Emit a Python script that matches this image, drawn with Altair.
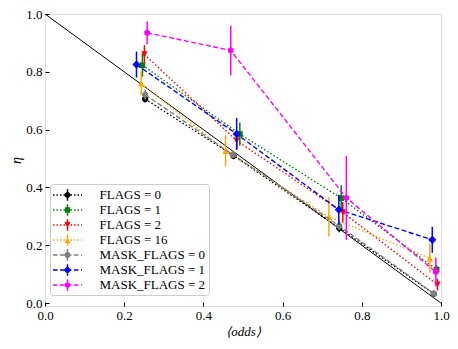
import math
import altair as alt
import pandas as pd

# ---------------- data ----------------
series = ["FLAGS = 0", "FLAGS = 1", "FLAGS = 2", "FLAGS = 16",
          "MASK_FLAGS = 0", "MASK_FLAGS = 1", "MASK_FLAGS = 2"]
colors = ["#000000", "#008000", "#ff0000", "#ffa500", "#808080", "#0000ff", "#ff00ff"]
markers = ["o", "s", "v", "^", "8", "D", "h"]
styles = ["dotted", "dotted", "dotted", "dotted", "dashed", "dashed", "dashed"]

odds_f0 = [0.253, 0.476, 0.743, 0.982]
eta_f0 = [0.706, 0.510, 0.260, 0.032]
err_f0 = [0.012, 0.012, 0.015, 0.008]

odds_f1 = [0.246, 0.492, 0.748, 0.989]
eta_f1 = [0.823, 0.585, 0.363, 0.116]
err_f1 = [0.040, 0.040, 0.045, 0.015]

odds_f2 = [0.251, 0.484, 0.752, 0.991]
eta_f2 = [0.860, 0.562, 0.314, 0.064]
err_f2 = [0.032, 0.030, 0.036, 0.020]

odds_f16 = [0.243, 0.456, 0.717, 0.972]
eta_f16 = [0.760, 0.527, 0.298, 0.155]
err_f16 = [0.040, 0.054, 0.068, 0.050]

odds_m0 = [0.253, 0.474, 0.743, 0.982]
eta_m0 = [0.721, 0.514, 0.267, 0.033]
err_m0 = [0.018, 0.012, 0.015, 0.010]

odds_m1 = [0.231, 0.484, 0.742, 0.978]
eta_m1 = [0.825, 0.585, 0.323, 0.219]
err_m1 = [0.045, 0.055, 0.052, 0.045]

odds_m2 = [0.258, 0.469, 0.761, 0.987]
eta_m2 = [0.935, 0.874, 0.364, 0.108]
err_m2 = [0.040, 0.086, 0.145, 0.050]

diag_odds = [0.0, 1.0]
diag_eta = [1.0, 0.0]

tick_values = [0.0, 0.2, 0.4, 0.6, 0.8, 1.0]

all_odds = [odds_f0, odds_f1, odds_f2, odds_f16, odds_m0, odds_m1, odds_m2]
all_eta = [eta_f0, eta_f1, eta_f2, eta_f16, eta_m0, eta_m1, eta_m2]
all_err = [err_f0, err_f1, err_f2, err_f16, err_m0, err_m1, err_m2]

rows = []
for s, xs, ys, es in zip(series, all_odds, all_eta, all_err):
    for i, (x, y, e) in enumerate(zip(xs, ys, es)):
        rows.append({"series": s, "order": i, "odds": x, "eta": y,
                     "lo": y - e, "hi": y + e})
df = pd.DataFrame(rows)
diag_df = pd.DataFrame({"odds": diag_odds, "eta": diag_eta})

# ---------------- styling helpers ----------------
FONT = "serif"
FS = 13


def fmt(v):
    return f"{v:.3f}".rstrip("0").rstrip(".") if abs(v) > 1e-9 else "0"


def poly(pts, k=1.0):
    return "M" + "L".join(f"{fmt(x * k)},{fmt(y * k)}" for x, y in pts) + "Z"


def circle(r):
    return (f"M{fmt(-r)},0A{fmt(r)},{fmt(r)} 0 0,1 {fmt(r)},0"
            f"A{fmt(r)},{fmt(r)} 0 0,1 {fmt(-r)},0Z")


def regular(n, r, start_deg):
    return [(r * math.cos(math.radians(start_deg + 360.0 * j / n)),
             r * math.sin(math.radians(start_deg + 360.0 * j / n))) for j in range(n)]


def marker_path(m, k=1.0):
    # unit: 1 = half the marker size
    if m == "o":
        return circle(1.0 * k)
    if m == "s":
        return poly([(-0.9, -0.9), (0.9, -0.9), (0.9, 0.9), (-0.9, 0.9)], k)
    if m == "v":
        return poly([(-1, -1), (1, -1), (0, 1)], k)
    if m == "^":
        return poly([(0, -1), (1, 1), (-1, 1)], k)
    if m == "D":
        d = 1.3
        return poly([(0, -d), (d, 0), (0, d), (-d, 0)], k)
    if m == "8":
        return poly(regular(8, 1.05, -90 + 22.5), k)
    if m == "h":
        return poly(regular(6, 1.05, -90), k)
    return circle(k)


def rect(x0, y0, x1, y1):
    return f"M{fmt(x0)},{fmt(y0)}H{fmt(x1)}V{fmt(y1)}H{fmt(x0)}Z"


LEG_SIZE = 256          # symbol size in legend -> 8 px per unit
PX = math.sqrt(LEG_SIZE) / 2.0


def legend_path(m, style):
    parts = []
    half = 14.5
    lw = 0.7
    if style == "dotted":
        on, period = 1.5, 3.5
    else:
        on, period = 4.5, 7.0
    x = -half
    while x < half - 0.2:
        x1 = min(x + on, half)
        parts.append(rect(x / PX, -lw / PX, x1 / PX, lw / PX))
        x += period
    parts.append(rect(-0.75 / PX, -5.8 / PX, 0.75 / PX, 5.8 / PX))
    parts.append(marker_path(m, 3.0 / PX))
    return "".join(parts)


legend_paths = [legend_path(m, s) for m, s in zip(markers, styles)]
dash_for = {"dotted": [1.5, 2.2], "dashed": [5, 2.5]}

xscale = alt.Scale(domain=[0, 1], nice=False, zero=False)
yscale = alt.Scale(domain=[-0.01, 1], nice=False, zero=False)

# ---------------- layers ----------------
base_axis_x = alt.Axis(orient="bottom", values=tick_values, format=".1f", ticks=False,
                       domain=False, grid=False, labelFont=FONT, labelFontSize=FS,
                       labelColor="black", labelPadding=3, labelFlush=False,
                       labelOverlap=False, title="⟨odds⟩", titleFont=FONT,
                       titleFontSize=FS, titleFontStyle="italic", titleFontWeight="normal",
                       titleColor="black", titlePadding=3)
base_axis_y = alt.Axis(orient="left", values=tick_values, format=".1f", ticks=False,
                       domain=False, grid=False, labelFont=FONT, labelFontSize=FS,
                       labelColor="black", labelPadding=3, labelFlush=False,
                       labelOverlap=False, title="η", titleFont=FONT,
                       titleFontSize=FS + 1, titleFontStyle="italic",
                       titleFontWeight="normal", titleColor="black", titlePadding=2)

diag = alt.Chart(diag_df).mark_line(color="black", strokeWidth=1, clip=True).encode(
    x=alt.X("odds:Q", scale=xscale, axis=base_axis_x),
    y=alt.Y("eta:Q", scale=yscale, axis=base_axis_y),
)

layers = [diag]
for s, c, m, st in zip(series, colors, markers, styles):
    sub = df[df["series"] == s]
    line = alt.Chart(sub).mark_line(color=c, strokeWidth=1.4,
                                    strokeDash=dash_for[st]).encode(
        x=alt.X("odds:Q", scale=xscale, axis=None),
        y=alt.Y("eta:Q", scale=yscale, axis=None),
        order="order:Q",
    )
    bars = alt.Chart(sub).mark_rule(color=c, strokeWidth=1.5).encode(
        x=alt.X("odds:Q", scale=xscale, axis=None),
        y=alt.Y("lo:Q", scale=yscale, axis=None),
        y2="hi:Q",
    )
    pts = alt.Chart(sub).mark_point(filled=True, color=c, opacity=1,
                                    shape=marker_path(m), size=40).encode(
        x=alt.X("odds:Q", scale=xscale, axis=None),
        y=alt.Y("eta:Q", scale=yscale, axis=None),
    )
    layers += [line, bars, pts]

leg_props = dict(orient="none", legendX=5, legendY=170, padding=3, rowPadding=0,
                 symbolSize=LEG_SIZE, symbolStrokeWidth=0, symbolOpacity=1,
                 symbolOffset=6.5, labelOffset=24, labelFont=FONT, labelFontSize=FS,
                 labelColor="black", labelLimit=400, strokeColor="#cccccc",
                 fillColor="rgba(255,255,255,0.8)", cornerRadius=3, title=None)

tick_axis_x = alt.Axis(orient="bottom", offset=-4, values=tick_values, ticks=True,
                       tickSize=4, tickColor="black", tickWidth=1, labels=False,
                       domain=False, grid=False, title=None)
tick_axis_y = alt.Axis(orient="left", offset=-4, values=tick_values, ticks=True,
                       tickSize=4, tickColor="black", tickWidth=1, labels=False,
                       domain=False, grid=False, title=None)

legend_layer = alt.Chart(df).mark_point(filled=True, opacity=0).encode(
    x=alt.X("odds:Q", scale=xscale, axis=tick_axis_x),
    y=alt.Y("eta:Q", scale=yscale, axis=tick_axis_y),
    color=alt.Color("series:N", scale=alt.Scale(domain=series, range=colors),
                    legend=alt.Legend(**leg_props)),
    shape=alt.Shape("series:N", scale=alt.Scale(domain=series, range=legend_paths),
                    legend=alt.Legend(**leg_props)),
)
layers.append(legend_layer)

chart = alt.layer(*layers).resolve_axis(x="independent", y="independent").properties(
    width=396, height=292,
    padding={"left": 37, "top": 6, "right": 9, "bottom": 33},
    autosize=alt.AutoSizeParams(type="none"),
).configure_view(stroke="#111111", strokeWidth=1).configure(background="white")

chart.save("out.html", embed_options={"renderer": "svg", "actions": False})
